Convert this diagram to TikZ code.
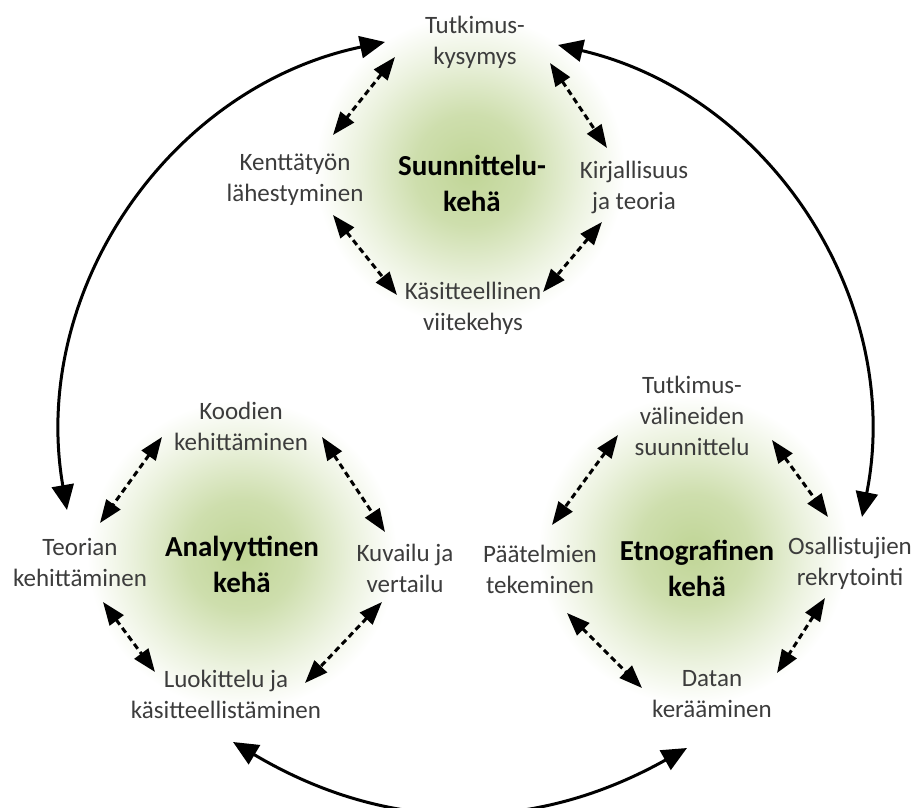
\documentclass[tikz,border=0pt]{standalone}
\usepackage{fontspec}
\setmainfont{Carlito}
\usetikzlibrary{arrows.meta}

\definecolor{textgray}{RGB}{60,60,60}
\definecolor{glowgreen}{RGB}{192,213,150}
\pgfdeclareradialshading{glow}{\pgfpoint{0bp}{0bp}}{color(0bp)=(glowgreen); color(9bp)=(glowgreen!78!white); color(18bp)=(glowgreen!32!white); color(25bp)=(white); color(50bp)=(white)}

\tikzset{
  stage/.style={text=textgray, align=center, inner sep=0pt, font=\fontsize{25}{31}\selectfont},
  cyclename/.style={text=black, align=center, inner sep=0pt, font=\bfseries\fontsize{29}{36}\selectfont},
  linkarrow/.style={line width=3pt, dash pattern=on 6pt off 4pt, {Triangle[length=23pt,width=17pt]}-{Triangle[length=23pt,width=17pt]}},
  bigarrow/.style={line width=3pt, {Triangle[length=25pt,width=22pt]}-{Triangle[length=25pt,width=22pt]}}
}

\begin{document}
\begin{tikzpicture}[x=1pt,y=1pt]
    \useasboundingbox (0,0) rectangle (916,808);

    % Draw the glows
    \shade[shading=glow] (470,638) circle (155);
    \shade[shading=glow] (242,253) circle (155);
    \shade[shading=glow] (693,258) circle (155);

    % Draw the planning cycle
    \node[cyclename] (su) at (472,625) {Suunnittelu-\\kehä};
    \node[stage] (tk) at (475,766) {Tutkimus-\\kysymys};
    \node[stage] (kl) at (295,628) {Kenttätyön\\lähestyminen};
    \node[stage] (kt) at (634,621) {Kirjallisuus\\ja teoria};
    \node[stage] (kv) at (473,500) {Käsitteellinen\\viitekehys};

    \draw[linkarrow] ([shift={(-80,-15)}]tk.center) -- ([shift={(38,45)}]kl.center);
    \draw[linkarrow] ([shift={(75,-21)}]tk.center) -- ([shift={(-27,39)}]kt.center);
    \draw[linkarrow] ([shift={(38,-35)}]kl.center) -- ([shift={(-76,13)}]kv.center);
    \draw[linkarrow] ([shift={(-32,-35)}]kt.center) -- ([shift={(70,16)}]kv.center);

    % Draw the analytic cycle
    \node[cyclename] (ana) at (242,244) {Analyyttinen\\kehä};
    \node[stage] (kod) at (241,382) {Koodien\\kehittäminen};
    \node[stage] (teo) at (80,246) {Teorian\\kehittäminen};
    \node[stage] (kuv) at (405,240) {Kuvailu ja\\vertailu};
    \node[stage] (luo) at (226,114) {Luokittelu ja\\käsitteellistäminen};

    \draw[linkarrow] ([shift={(-79,-11)}]kod.center) -- ([shift={(20,39)}]teo.center);
    \draw[linkarrow] ([shift={(81,-11)}]kod.center) -- ([shift={(-20,36)}]kuv.center);
    \draw[linkarrow] ([shift={(23,-40)}]teo.center) -- ([shift={(-71,22)}]luo.center);
    \draw[linkarrow] ([shift={(-23,-34)}]kuv.center) -- ([shift={(79,11)}]luo.center);

    % Draw the ethnographic cycle
    \node[cyclename] (et) at (697,240) {Etnografinen\\kehä};
    \node[stage] (tv) at (692,392) {Tutkimus-\\välineiden\\suunnittelu};
    \node[stage] (pt) at (540,239) {Päätelmien\\tekeminen};
    \node[stage] (os) at (850,245) {Osallistujien\\rekrytointi};
    \node[stage] (dk) at (712,114) {Datan\\kerääminen};

    \draw[linkarrow] ([shift={(-74,-19)}]tv.center) -- ([shift={(12,44)}]pt.center);
    \draw[linkarrow] ([shift={(80,-24)}]tv.center) -- ([shift={(-22,46)}]os.center);
    \draw[linkarrow] ([shift={(27,-44)}]pt.center) -- ([shift={(-70,6)}]dk.center);
    \draw[linkarrow] ([shift={(-25,-35)}]os.center) -- ([shift={(65,21)}]dk.center);

    % Draw the arcs between the cycles
    \draw[bigarrow] ([shift={(-90,0)}]tk.center) to[bend right=44] ([shift={(-13,52)}]teo.center);
    \draw[bigarrow] ([shift={(83,-3)}]tk.center) to[bend left=44] ([shift={(12,46)}]os.center);
    \draw[bigarrow] ([shift={(7,-48)}]luo.center) to[bend right=30] ([shift={(-25,-54)}]dk.center);

\end{tikzpicture}
\end{document}
